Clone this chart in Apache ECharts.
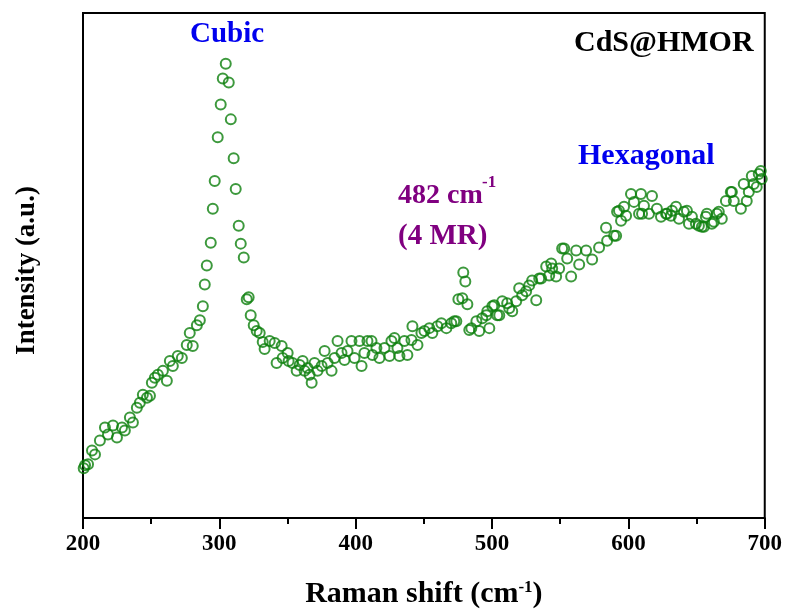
<!DOCTYPE html>
<html>
<head>
<meta charset="utf-8">
<script src="https://cdn.jsdelivr.net/npm/echarts@6/dist/echarts.min.js"></script>
<style>html,body{margin:0;padding:0;background:#fff}#c{width:785px;height:614px}</style>
</head>
<body>
<div id="c"></div>
<script>
// Raman shift (cm-1)
const ramanShift = [
200.5,201.5,203.7,206.6,208.8,212.4,216.1,218.3,222.0,224.9,228.6,230.7,234.4,236.6,239.5,241.7,243.9,246.9,249.1,250.5,
252.7,254.9,258.6,261.5,263.7,265.9,269.5,272.5,276.1,278.3,280.5,283.5,285.7,287.9,289.3,290.8,293.7,295.2,296.6,298.8,
301.0,302.5,304.7,306.9,308.4,310.5,312.0,314.2,315.7,317.9,320.1,321.5,323.0,325.2,327.4,329.6,331.8,333.2,336.9,340.6,
342.0,345.7,346.4,350.1,350.8,353.7,356.7,358.9,361.1,362.5,364.7,366.2,367.7,369.8,372.0,375.0,377.2,379.4,382.3,384.5,
386.7,389.6,391.8,394.0,396.9,399.1,402.8,404.3,406.4,408.6,411.6,412.3,415.2,417.4,421.1,424.8,426.2,428.4,430.6,432.1,
435.7,437.9,440.9,441.6,445.3,448.2,450.4,454.0,456.2,459.9,462.8,466.5,470.1,472.3,473.8,475.3,478.2,478.9,480.4,481.9,
483.3,484.8,488.5,490.6,492.8,495.8,496.5,498.0,500.2,501.6,503.8,505.3,507.5,511.1,512.6,514.8,517.7,519.9,522.1,525.0,
527.2,529.4,532.4,534.6,536.0,539.7,541.9,543.4,544.1,547.0,549.2,551.4,552.9,555.1,558.0,561.7,563.9,569.0,573.4,578.5,
583.6,584.4,589.5,591.0,591.7,593.1,594.6,596.8,598.3,601.9,604.1,607.8,609.2,610.0,611.4,615.1,617.3,620.9,623.9,627.6,
628.3,631.2,632.0,634.9,637.1,640.7,642.9,644.4,646.6,649.5,651.7,653.9,655.4,656.8,657.6,661.2,662.7,664.9,666.3,668.5,
671.5,675.1,675.9,677.3,682.5,684.6,686.8,688.3,690.5,691.9,694.1,695.6,697.1,697.8
];
// Intensity (a.u.)
const intensity = [
50,53,54,68,64,78,91,84,93,81,91,88,101,96,111,116,124,121,123,136,
141,144,148,138,158,153,163,161,174,186,173,194,199,213,235,254,277,311,339,383,
416,442,457,438,401,362,331,294,276,262,220,222,204,194,188,186,177,170,178,176,
156,173,161,166,158,156,148,154,158,148,151,144,136,156,148,153,168,156,148,161,
178,166,159,168,178,161,178,153,166,178,178,164,171,161,171,163,178,181,171,163,
178,164,179,193,174,186,188,191,186,193,196,191,196,198,198,220,221,247,238,215,
189,191,198,188,201,204,208,191,213,214,204,204,218,216,211,208,218,231,224,228,
234,239,219,241,241,253,244,256,251,243,251,271,271,261,243,269,255,269,260,272,
292,279,284,284,308,309,299,313,304,326,318,306,326,306,314,306,324,311,303,306,
306,304,309,313,301,308,309,296,303,296,294,293,293,303,306,296,298,306,308,301,
319,328,328,319,311,336,319,328,344,336,333,346,349,341
];
const xTicks = [200, 300, 400, 500, 600, 700];
const annotations = {cubic: 'Cubic', hex: 'Hexagonal', sample: 'CdS@HMOR', mr1: '482 cm', mr2: '(4 MR)'};

const points = ramanShift.map((x, i) => [x, intensity[i]]);
const serif = "'Liberation Serif','Times New Roman',serif";
const chart = echarts.init(document.getElementById('c'));
chart.setOption({
  animation: false,
  backgroundColor: '#fff',
  grid: {left: 83, right: 19, top: 13, bottom: 93, show: true, borderColor: '#000', borderWidth: 2, backgroundColor: 'transparent'},
  xAxis: {
    type: 'value', min: xTicks[0], max: xTicks[xTicks.length - 1], interval: 100,
    axisLine: {show: true, lineStyle: {color: '#000', width: 2}},
    axisTick: {show: true, inside: false, length: 11, lineStyle: {color: '#000', width: 2}},
    minorTick: {show: true, splitNumber: 2, length: 6, lineStyle: {color: '#000', width: 2}},
    splitLine: {show: false},
    axisLabel: {fontFamily: serif, fontWeight: 'bold', fontSize: 23, color: '#000', margin: 15},
    name: '{t|Raman shift (cm}{s|-1}{t|)}',
    nameLocation: 'middle', nameGap: 61,
    nameTextStyle: {rich: {
      t: {fontFamily: serif, fontWeight: 'bold', fontSize: 30, color: '#000'},
      s: {fontFamily: serif, fontWeight: 'bold', fontSize: 17, color: '#000', verticalAlign: 'top'}
    }}
  },
  yAxis: {
    type: 'value', min: 0, max: 508,
    axisLine: {show: true, lineStyle: {color: '#000', width: 2}},
    axisTick: {show: false}, axisLabel: {show: false}, splitLine: {show: false},
    name: 'Intensity (a.u.)', nameLocation: 'middle', nameGap: 42, nameRotate: 90,
    nameTextStyle: {fontFamily: serif, fontWeight: 'bold', fontSize: 27, color: '#000', padding: [0, 10, 0, 0]}
  },
  series: [{
    type: 'scatter', data: points, symbol: 'circle', symbolSize: 10,
    itemStyle: {color: 'rgba(0,0,0,0)', borderColor: '#0c800c', borderWidth: 2},
    clip: false
  }],
  graphic: [
    {type: 'text', left: 190, top: 20, style: {text: annotations.cubic, fill: '#0000ee', font: 'bold 29px ' + serif}},
    {type: 'text', left: 574, top: 28, style: {text: annotations.sample, fill: '#000', font: 'bold 30px ' + serif}},
    {type: 'text', left: 578, top: 141, style: {text: annotations.hex, fill: '#0000ee', font: 'bold 30px ' + serif}},
    {type: 'text', left: 398, top: 182, style: {text: annotations.mr1, fill: '#800080', font: 'bold 28px ' + serif}},
    {type: 'text', left: 482, top: 174, style: {text: '-1', fill: '#800080', font: 'bold 17px ' + serif}},
    {type: 'text', left: 398, top: 222, style: {text: annotations.mr2, fill: '#800080', font: 'bold 29px ' + serif}}
  ]
});
</script>
</body>
</html>
